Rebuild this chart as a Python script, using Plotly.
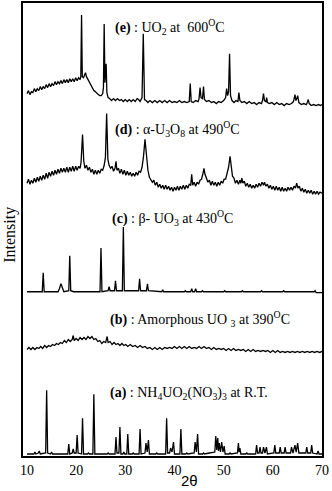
import plotly.graph_objects as go

# XRD patterns, stacked: (2-theta [deg], intensity [a.u., offset for stacking])
pattern_e = [(10.0,364),(10.3,367),(10.6,363),(10.9,366),(11.2,365),(11.5,369),(11.8,366),(12.1,369),(12.4,367),(12.7,371),(13.0,368),(13.3,371),(13.6,369),(13.9,373),(14.2,370),(14.5,374),(14.8,371),(15.1,374),(15.4,372),(15.7,376),(16.0,373),(16.3,376),(16.6,374),(16.9,377),(17.2,374),(17.5,378),(17.8,375),(18.1,378),(18.4,375),(18.7,379),(19.0,376),(19.3,379),(19.6,376),(19.9,380),(20.2,377),(20.5,380),(20.8,378),(20.95,381),(21.1,443),(21.25,381),(21.5,380),(21.7,383),(21.9,385),(22.1,381),(22.4,378),(22.7,375),(23.0,372),(23.3,370),(23.6,367),(23.9,366),(24.2,364),(24.5,363),(24.8,362),(25.1,362),(25.4,364),(25.55,370),(25.7,434),(25.85,375),(26.0,390),(26.1,394),(26.25,365),(26.5,360),(26.8,359),(27.2,357),(27.6,359),(28.0,357),(28.4,359),(28.8,357),(29.2,358),(29.6,356),(30.0,358),(30.4,356),(30.8,358),(31.2,356),(31.6,358),(32.0,356),(32.4,359),(32.7,358),(33.0,356),(33.4,360),(33.65,424),(33.9,358),(34.2,357),(34.6,355),(35.0,357),(35.5,355),(36.0,357),(36.5,355),(37.0,357),(37.5,355),(38.0,357),(38.5,355),(39.0,357),(39.5,355),(40.0,356),(40.5,355),(41.0,357),(41.5,355),(42.0,356),(42.5,355),(43.0,356),(43.2,374),(43.4,356),(43.8,355),(44.3,357),(44.8,356),(45.0,359),(45.2,370),(45.4,360),(45.7,359),(45.9,371),(46.1,358),(46.5,356),(47.0,357),(47.5,355),(48.0,356),(48.5,354),(49.0,356),(49.5,355),(50.0,357),(50.4,360),(50.6,369),(50.8,362),(51.0,366),(51.2,404),(51.4,362),(51.7,357),(52.1,355),(52.5,357),(52.9,356),(53.1,365),(53.3,357),(53.7,355),(54.2,356),(54.7,354),(55.2,356),(55.7,354),(56.2,355),(56.7,353),(57.2,355),(57.7,354),(57.9,357),(58.1,364),(58.3,357),(58.6,356),(58.75,360),(58.9,355),(59.3,354),(59.8,355),(60.3,353),(60.8,355),(61.3,353),(61.8,354),(62.3,352),(62.8,354),(63.3,353),(63.8,354),(64.2,356),(64.5,363),(64.7,357),(64.9,359),(65.05,362),(65.3,355),(65.8,353),(66.3,354),(66.8,353),(67.0,355),(67.2,358),(67.4,354),(67.8,352),(68.3,353),(68.8,352),(69.3,353),(69.7,352),(70.0,353)]

pattern_d = [(10.0,274),(10.3,278),(10.6,273),(10.9,277),(11.2,274),(11.5,279),(11.8,275),(12.1,280),(12.4,276),(12.7,281),(13.0,277),(13.3,282),(13.6,278),(13.9,284),(14.2,279),(14.5,285),(14.8,281),(15.1,286),(15.4,282),(15.7,287),(16.0,283),(16.3,288),(16.6,284),(16.9,289),(17.2,285),(17.5,289),(17.8,285),(18.1,290),(18.4,285),(18.7,290),(19.0,286),(19.3,291),(19.6,286),(19.9,291),(20.2,287),(20.5,291),(20.8,289),(21.0,295),(21.3,323),(21.55,296),(21.8,289),(22.1,292),(22.4,287),(22.7,290),(23.0,285),(23.3,288),(23.6,283),(23.9,287),(24.2,283),(24.5,287),(24.8,284),(25.1,288),(25.4,287),(25.7,292),(25.95,300),(26.2,344),(26.45,298),(26.7,292),(27.0,289),(27.3,291),(27.6,286),(27.9,289),(28.1,296),(28.3,287),(28.6,289),(28.9,284),(29.2,288),(29.5,283),(29.8,287),(30.1,282),(30.4,286),(30.7,282),(31.0,285),(31.3,281),(31.6,284),(31.9,281),(32.2,285),(32.5,282),(32.8,286),(33.1,285),(33.4,290),(33.7,301),(34.0,318),(34.3,300),(34.6,287),(34.9,280),(35.2,278),(35.5,275),(35.8,277),(36.1,272),(36.4,275),(36.7,270),(37.0,273),(37.3,269),(37.6,272),(37.9,268),(38.2,272),(38.5,268),(38.8,271),(39.1,267),(39.4,270),(39.7,266),(40.0,270),(40.3,267),(40.6,271),(40.9,267),(41.2,271),(41.5,268),(41.8,272),(42.1,268),(42.4,272),(42.7,269),(43.0,273),(43.3,272),(43.5,283),(43.7,272),(44.0,275),(44.3,271),(44.6,275),(44.9,273),(45.2,277),(45.5,278),(45.8,284),(46.0,289),(46.2,283),(46.5,278),(46.8,275),(47.1,277),(47.4,272),(47.7,276),(48.0,272),(48.3,275),(48.6,271),(48.9,275),(49.2,272),(49.5,276),(49.8,274),(50.1,278),(50.4,278),(50.7,284),(51.0,290),(51.3,301),(51.55,288),(51.8,281),(52.1,279),(52.4,274),(52.7,277),(53.0,273),(53.3,277),(53.5,274),(53.7,279),(53.9,274),(54.2,276),(54.5,271),(54.8,274),(55.1,270),(55.4,273),(55.7,269),(56.0,272),(56.3,269),(56.6,273),(56.9,270),(57.2,274),(57.5,271),(57.8,275),(58.1,272),(58.3,275),(58.6,271),(58.9,273),(59.2,269),(59.5,272),(59.8,268),(60.1,271),(60.4,267),(60.7,271),(61.0,267),(61.3,270),(61.6,266),(61.9,270),(62.2,266),(62.5,269),(62.8,266),(63.1,270),(63.4,267),(63.7,270),(64.0,267),(64.3,271),(64.6,269),(64.85,274),(65.1,269),(65.4,271),(65.7,266),(66.0,269),(66.3,265),(66.6,268),(66.9,264),(67.2,267),(67.5,264),(67.8,267),(68.1,263),(68.4,266),(68.7,263),(69.0,266),(69.3,263),(69.6,265),(70.0,264)]

pattern_c = [(10.0,165),(13.1,165),(13.3,184),(13.5,165),(16.3,165),(16.6,168),(16.9,173),(17.2,168),(17.5,165),(18.5,166),(18.7,201),(18.9,166),(19.5,165),(24.85,165),(25.05,209),(25.25,165),(26.5,166),(26.7,170),(26.9,166),(27.8,166),(28.0,176),(28.2,166),(29.4,166),(29.6,230),(29.8,166),(32.7,166),(32.9,178),(33.1,166),(34.3,166),(34.5,173),(34.7,166),(37.4,165),(37.6,167),(37.8,165),(42.0,165),(42.2,166),(42.4,165),(43.3,165),(43.5,168),(43.7,165),(44.1,165),(44.3,168),(44.5,165),(45.5,165),(45.7,166),(45.9,165),(50.0,165),(50.2,166),(50.4,165),(53.6,165),(53.8,166),(54.0,165),(57.5,165),(57.7,166),(57.9,165),(62.0,165),(62.2,166),(62.4,165),(68.4,165),(68.6,166),(68.8,164),(70.0,164)]

pattern_b = [(10.0,107),(10.4,109),(10.8,107),(11.2,109),(11.6,107),(12.0,109),(12.4,108),(12.8,110),(13.2,108),(13.6,111),(14.0,109),(14.4,111),(14.8,110),(15.2,112),(15.6,111),(16.0,113),(16.4,112),(16.8,114),(17.2,113),(17.6,116),(18.0,114),(18.4,117),(18.8,115),(19.2,117),(19.4,121),(19.6,116),(20.0,118),(20.4,116),(20.8,119),(21.2,117),(21.6,119),(22.0,117),(22.4,120),(22.8,118),(23.2,120),(23.6,117),(24.0,118),(24.4,115),(24.8,116),(25.2,113),(25.6,115),(26.0,114),(26.3,120),(26.5,114),(26.9,115),(27.3,112),(27.7,114),(28.1,112),(28.5,113),(28.9,111),(29.3,113),(29.7,111),(30.1,112),(30.5,110),(31.0,112),(31.5,110),(32.0,111),(32.5,109),(33.0,111),(33.5,109),(34.0,110),(34.5,108),(35.0,109),(35.5,107),(36.0,109),(36.5,107),(37.0,109),(37.5,107),(38.0,109),(38.5,108),(39.0,109),(39.5,108),(40.0,110),(40.5,108),(41.0,110),(41.5,108),(42.0,110),(42.5,108),(43.0,110),(43.5,108),(44.0,109),(44.5,108),(45.0,110),(45.5,108),(46.0,110),(46.5,108),(47.0,109),(47.5,107),(48.0,109),(48.5,107),(49.0,108),(49.5,107),(50.0,108),(50.5,106),(51.0,108),(51.5,106),(52.0,108),(52.5,106),(53.0,107),(53.5,106),(54.0,107),(54.5,105),(55.0,107),(55.5,105),(56.0,107),(56.5,105),(57.0,106),(57.5,105),(58.0,106),(58.5,105),(59.0,106),(59.5,104),(60.0,106),(60.5,104),(61.0,106),(61.5,104),(62.0,105),(62.5,104),(63.0,105),(63.5,104),(64.0,105),(64.5,104),(65.0,105),(65.5,104),(66.0,105),(66.5,104),(67.0,105),(67.5,104),(68.0,105),(68.5,104),(69.0,105),(69.5,104),(70.0,105)]

pattern_a = [(10.0,2),(11.4,2),(11.6,4),(11.8,2),(12.3,3),(12.5,5),(12.7,2),(13.8,3),(14.0,66),(14.2,3),(14.8,2),(15.0,4),(15.2,2),(16.5,2),(18.3,2),(18.5,12),(18.7,2),(19.2,3),(19.4,7),(19.6,3),(20.0,3),(20.2,21),(20.4,3),(21.1,2),(21.3,38),(21.5,2),(22.3,2),(22.5,3),(22.7,2),(23.4,2),(23.6,62),(23.8,2),(25.0,2),(26.3,2),(26.5,3),(26.7,2),(27.9,2),(28.1,19),(28.3,3),(28.7,3),(28.9,29),(29.1,2),(29.5,2),(29.7,4),(29.9,2),(30.3,2),(30.5,22),(30.7,2),(31.4,2),(31.6,3),(31.8,2),(32.8,2),(33.0,27),(33.2,2),(34.0,3),(34.2,13),(34.45,4),(34.7,16),(34.9,2),(36.2,2),(36.4,3),(36.6,2),(38.2,2),(38.4,38),(38.6,3),(39.0,3),(39.2,8),(39.5,4),(39.8,14),(40.0,2),(41.1,2),(41.3,27),(41.5,2),(42.3,2),(42.5,3),(42.7,2),(44.0,3),(44.2,14),(44.45,4),(44.7,22),(44.9,2),(45.7,2),(45.9,3),(46.1,2),(47.1,3),(48.2,4),(48.4,20),(48.6,6),(48.8,18),(48.95,5),(49.1,13),(49.35,4),(49.6,14),(49.85,4),(50.1,10),(50.3,2),(51.1,2),(51.3,3),(51.5,2),(52.8,3),(53.0,13),(53.15,4),(53.3,8),(53.5,2),(54.5,2),(54.7,3),(54.9,2),(56.5,2),(56.7,11),(56.9,3),(57.2,3),(57.4,9),(57.6,3),(57.9,3),(58.1,9),(58.4,3),(58.7,9),(58.9,2),(60.2,3),(60.4,11),(60.6,3),(61.3,3),(61.5,9),(61.7,3),(62.3,3),(62.5,9),(62.7,3),(63.6,3),(63.8,9),(64.1,3),(64.5,11),(64.75,4),(65.05,13),(65.3,3),(66.7,3),(66.9,9),(67.1,3),(67.7,3),(67.9,11),(68.1,3),(69.0,2),(69.2,5),(69.4,2),(70.0,2)]

labels = [
    "<b>(e)</b> : UO<sub>2</sub> at  600<sup>O</sup>C",
    "<b>(d)</b> : \u03b1-U<sub>3</sub>O<sub>8</sub> at 490<sup>O</sup>C",
    "<b>(c)</b> : \u03b2- UO<sub>3</sub> at 430<sup>O</sup>C",
    "<b>(b)</b> : Amorphous UO <sub>3</sub> at 390<sup>O</sup>C",
    "<b>(a)</b> : NH<sub>4</sub>UO<sub>2</sub>(NO<sub>3</sub>)<sub>3</sub> at R.T.",
]
label_x = [27.5, 27.5, 26.9, 26.5, 26.5]
label_y = [431, 328, 239, 138, 63]

x_ticks = [10, 20, 30, 40, 50, 60, 70]

fig = go.Figure()
for pat in [pattern_a, pattern_b, pattern_c, pattern_d, pattern_e]:
    xs = [p[0] for p in pat]
    ys = [p[1] for p in pat]
    fig.add_trace(go.Scatter(x=xs, y=ys, mode="lines",
                             line=dict(color="black", width=1.3),
                             showlegend=False, hoverinfo="skip"))

serif = "Liberation Serif, Times New Roman, serif"
for txt, lx, ly in zip(labels, label_x, label_y):
    fig.add_annotation(x=lx, y=ly, xref="x", yref="y", text=txt, showarrow=False,
                       xanchor="left", yanchor="middle",
                       font=dict(family=serif, size=14, color="black"))

fig.add_annotation(x=0.556, y=-0.074, xref="paper", yref="paper", text="2\u03b8",
                   showarrow=False, xanchor="center", yanchor="bottom", borderpad=0,
                   font=dict(family="Liberation Sans, Arial, sans-serif", size=15, color="black"))
fig.add_annotation(x=-0.044, y=0.488, xref="paper", yref="paper", text="Intensity",
                   showarrow=False, textangle=-90, xanchor="center", yanchor="middle",
                   font=dict(family=serif, size=16, color="black"))

fig.update_layout(
    width=332, height=491,
    margin=dict(l=23, r=10, t=1, b=35),
    paper_bgcolor="white", plot_bgcolor="white",
    xaxis=dict(range=[9.19, 70], tickvals=x_ticks, ticktext=[str(t) for t in x_ticks],
               showgrid=False, zeroline=False, showline=True, mirror=True,
               linecolor="black", linewidth=2, ticks="", ticklabelstandoff=0,
               tickfont=dict(family=serif, size=14, color="black")),
    yaxis=dict(range=[0, 455], showticklabels=False, showgrid=False, zeroline=False,
               showline=True, mirror=True, linecolor="black", linewidth=2, ticks=""),
)

fig.write_html("out.html", config={"displayModeBar": False},
               post_script="document.body.style.margin='0px';")
